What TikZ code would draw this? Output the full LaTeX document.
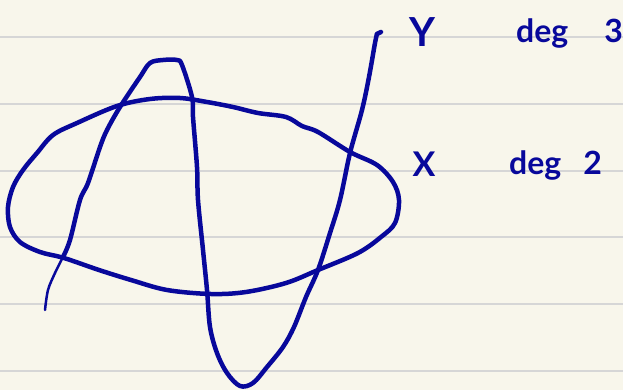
\documentclass[tikz,border=0pt]{standalone}
\usepackage{fontspec}
\setmainfont{Lato}
\usetikzlibrary{positioning}
\definecolor{inkblue}{RGB}{8,8,155}
\definecolor{paper}{RGB}{248,246,235}
\definecolor{ruleline}{RGB}{214,214,214}

\begin{document}
\begin{tikzpicture}[
    x=1pt,y=-1pt,
    ink/.style={draw=inkblue,line width=4.5pt,line cap=round,line join=round},
    lbl/.style={text=inkblue,inner sep=0pt,font=\bfseries},
  ]
  \fill[paper] (0,0) rectangle (623,390);
  \useasboundingbox (0,0) rectangle (623,390);
  \foreach \r in {37,104,171,237,304,371}
    \draw[ruleline,line width=1.5pt] (0,\r) -- (623,\r);
  % X (the oval)
  \draw[ink] plot[smooth cycle,tension=0.55] coordinates {
    (8,207) (13,187) (23,170) (37,153) (53,135) (77,123) (117,106)
    (150,99) (180,98) (207,102) (233,107) (258,113) (286,117) (302,126)
    (318,132) (350,152) (377,165) (393,182) (399,200) (395,223) (381,237)
    (358,253) (318,270) (286,283) (246,292) (211,294) (167,290) (131,280)
    (99,270) (64,258) (40,252) (20,242) (10,227)};
  % Y (the cubic)
  \draw[ink,line width=2.5pt] plot[smooth,tension=0.55] coordinates {
    (45,310) (48,290) (55,273) (63,257)};
  \draw[ink] plot[smooth,tension=0.55] coordinates {
    (63,257) (70,240) (80,200) (88,183) (100,147) (107,130) (120,107)
    (140,77) (150,63) (163,60) (177,60) (182,65) (192,97) (193,117)
    (197,167) (198,200) (203,250) (207,290) (210,327) (217,353) (227,373)
    (240,386) (253,383) (267,367) (283,347) (294,327) (306,297) (318,270)
    (330,233) (340,200) (350,153) (362,110) (369,77) (375,43) (377,34)};
  \draw[ink] (377,34) -- (381,32);
  % labels
  \node[lbl,font=\bfseries\fontsize{40}{40}\selectfont] (ylab) at (422,32) {Y};
  \node[lbl,font=\bfseries\fontsize{34}{34}\selectfont] (xlab) at (424,164) {X};
  \node[lbl,font=\bfseries\fontsize{32}{32}\selectfont,anchor=base west] (ydeg)
    at (516,43) {deg\hspace{36pt}3};
  \node[lbl,font=\bfseries\fontsize{32}{32}\selectfont,anchor=base west] (xdeg)
    at (509,175) {deg\hspace{22pt}2};
\end{tikzpicture}
\end{document}
